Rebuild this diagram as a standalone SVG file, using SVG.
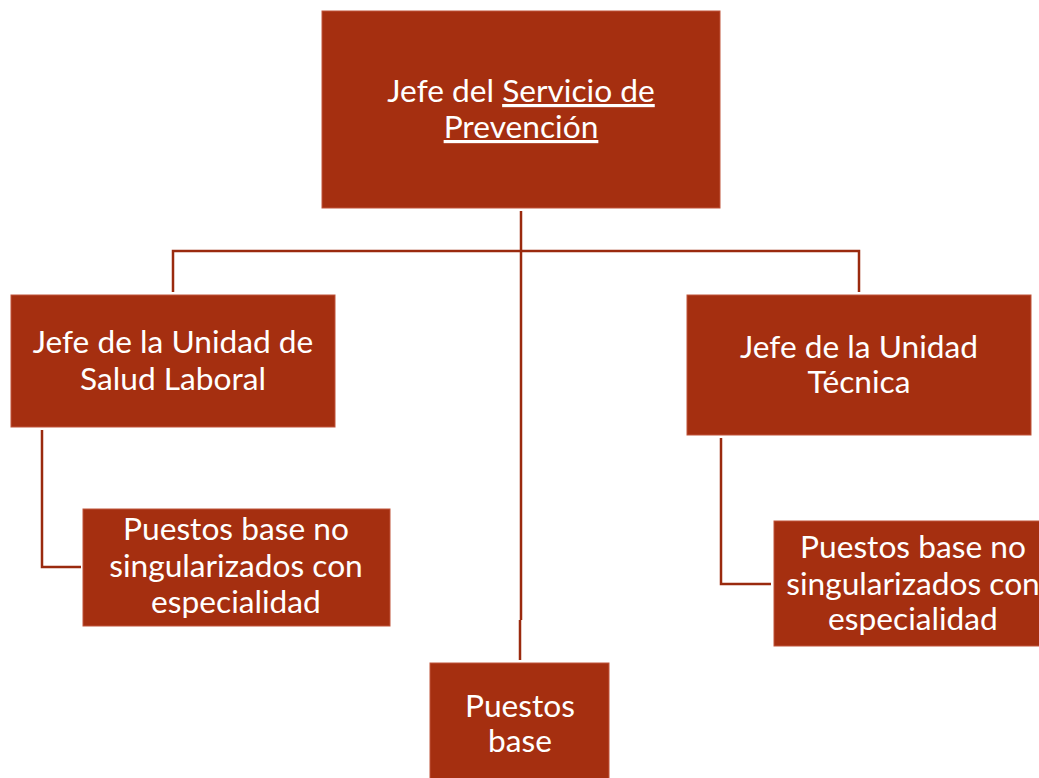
<svg xmlns="http://www.w3.org/2000/svg" width="1039" height="778" viewBox="0 0 1039 778">
<style>
.box{fill:#A52F10;stroke:#C0543A;stroke-width:1}
.t{font-family:Lato,"Liberation Sans",sans-serif;font-size:31.7px;fill:#FFFFFF;text-anchor:middle}
.c{fill:none;stroke:#9A2A0E;stroke-width:2.5}
</style>
<rect width="1039" height="778" fill="#FFFFFF"/>
<g id="connectors">
<path class="c" d="M521,211 V620 M520,620 V660"/>
<path class="c" d="M173,292 V251 H859 V292"/>
<path class="c" d="M42,430 V567 H81"/>
<path class="c" d="M721,438 V584 H771"/>
</g>
<g id="jefe-servicio">
<rect class="box" x="322" y="11" width="398" height="197"/>
<text class="t" x="521" y="102">Jefe del <tspan text-decoration="underline">Servicio de</tspan></text>
<text class="t" x="521" y="138" text-decoration="underline">Prevención</text>
</g>
<g id="jefe-salud">
<rect class="box" x="11" y="295" width="324" height="132"/>
<text class="t" x="173" y="353">Jefe de la Unidad de</text>
<text class="t" x="173" y="390">Salud Laboral</text>
</g>
<g id="jefe-tecnica">
<rect class="box" x="687" y="295" width="344" height="140"/>
<text class="t" x="859" y="358">Jefe de la Unidad</text>
<text class="t" x="859" y="393">Técnica</text>
</g>
<g id="puestos-salud">
<rect class="box" x="83" y="509" width="307" height="117"/>
<text class="t" x="236" y="540">Puestos base no</text>
<text class="t" x="236" y="577">singularizados con</text>
<text class="t" x="236" y="613">especialidad</text>
</g>
<g id="puestos-tecnica">
<rect class="box" x="774" y="521" width="280" height="125"/>
<text class="t" x="913" y="558">Puestos base no</text>
<text class="t" x="913" y="595">singularizados con</text>
<text class="t" x="913" y="630">especialidad</text>
</g>
<g id="puestos-base">
<rect class="box" x="430" y="663" width="179" height="130"/>
<text class="t" x="520" y="717">Puestos</text>
<text class="t" x="520" y="752">base</text>
</g>
</svg>
